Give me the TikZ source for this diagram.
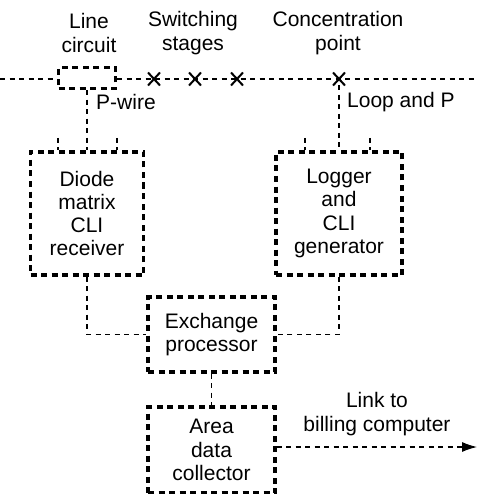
\documentclass[tikz,border=0pt]{standalone}
\usepackage{fontspec}
\setmainfont{Liberation Sans}
\usetikzlibrary{shapes.misc,arrows.meta}
\begin{document}
\begin{tikzpicture}[x=1pt,y=-1pt,
  box/.style={draw, line width=3.4pt, dash pattern=on 6pt off 4.5pt, inner sep=0pt, align=center, font=\fontsize{21}{23.3}\selectfont},
  conn/.style={draw, line width=1.1pt, dash pattern=on 5pt off 4.5pt},
  lbl/.style={align=center, font=\fontsize{21}{23.3}\selectfont, inner sep=0pt},
  xmark/.style={cross out, draw, line width=2pt, minimum width=10pt, minimum height=11pt, inner sep=0pt}]
\useasboundingbox (0,0) rectangle (477,494);
% boxes
\node[box, minimum width=57pt, minimum height=21pt] (lc) at (87,78) {};
\node[box, minimum width=113pt, minimum height=123pt] (dm) at (87,213.5) {Diode\\matrix\\CLI\\receiver};
\node[box, minimum width=126pt, minimum height=123pt] (lg) at (339,213.5) {Logger\\and\\CLI\\generator};
\node[box, minimum width=127pt, minimum height=75pt] (ex) at (211.5,334.5) {Exchange\\processor};
\node[box, minimum width=127pt, minimum height=86pt] (ad) at (211.5,450) {Area\\data\\collector};
% top line
\coordinate (L) at (0,79);
\coordinate (R) at (477,79);
\draw[conn] (L) -- (lc.west |- L);
\draw[conn] (lc.east |- L) -- (R);
\node[xmark] (c1) at (154,79) {};
\node[xmark] (c2) at (195,79) {};
\node[xmark] (c3) at (237,79) {};
\node[xmark] (c4) at (339,79) {};
% top labels
\node[lbl] (tLine) at (89,33) {Line\\circuit};
\node[lbl] (tSw) at (193,33) {Switching\\stages};
\node[lbl] (tCon) at (338,33) {Concentration\\point};
% verticals
\draw[conn] (lc.south) -- (dm.north);
\draw[conn] (c4) -- (lg.north);
\coordinate (t1) at (58,138);
\coordinate (t2) at (117,138);
\coordinate (t3) at (305,138);
\coordinate (t4) at (370,138);
\draw[conn] (t1) -- (t1 |- dm.north);
\draw[conn] (t2) -- (t2 |- dm.north);
\draw[conn] (t3) -- (t3 |- lg.north);
\draw[conn] (t4) -- (t4 |- lg.north);
\node[lbl, anchor=west] (pw) at (96,102) {P-wire};
\node[lbl, anchor=west] (lp) at (347,102) {Loop and P};
% lower connections
\draw[conn] (dm.south) |- (ex.west);
\draw[conn] (lg.south) |- (ex.east);
\draw[conn] (ex.south) -- (ad.north);
\coordinate (A) at (477,447);
\draw[conn, -{Latex[length=15pt,width=10pt]}] (ad.east |- A) -- (A);
\node[lbl] (link) at (377,414) {Link to\\billing computer};
\end{tikzpicture}
\end{document}
